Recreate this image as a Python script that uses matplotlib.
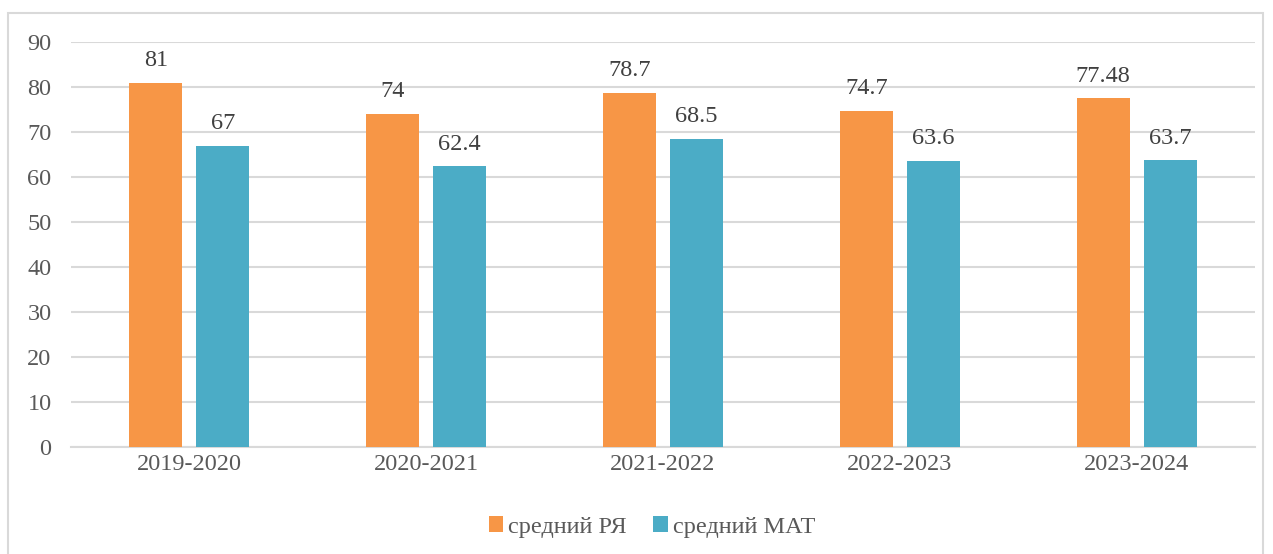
import numpy as np
import matplotlib.pyplot as plt
from matplotlib.patches import Rectangle

# Данные
years = ['2019-2020', '2020-2021', '2021-2022', '2022-2023', '2023-2024']
ry = [81, 74, 78.7, 74.7, 77.48]
mat = [67, 62.4, 68.5, 63.6, 63.7]
ry_labels = ['81', '74', '78.7', '74.7', '77.48']
mat_labels = ['67', '62.4', '68.5', '63.6', '63.7']

plt.rcParams['font.family'] = ['Liberation Serif', 'DejaVu Serif']

fig = plt.figure(figsize=(12.73, 5.54), dpi=100)
W, H = 1273, 554
ax = fig.add_axes([71 / W, 1 - 447 / H, (1255 - 71) / W, (447 - 42) / H])

# рамка вокруг диаграммы
fig.patches.append(Rectangle((8 / W, -0.05), (1263 - 8) / W, 1 - 13 / H + 0.05,
                             transform=fig.transFigure, fill=False,
                             edgecolor='#D9D9D9', linewidth=1.5))

x = np.arange(len(years))
w = 0.224
off = 0.1415
b1 = ax.bar(x - off, ry, w, color='#F79646', label='средний РЯ', zorder=3)
b2 = ax.bar(x + off, mat, w, color='#4BACC6', label='средний МАТ', zorder=3)

for rect, t in zip(b1, ry_labels):
    ax.text(rect.get_x() + rect.get_width() / 2, rect.get_height() + 2.6, t,
            ha='center', va='bottom', fontsize=17.5, color='#404040')
for rect, t in zip(b2, mat_labels):
    ax.text(rect.get_x() + rect.get_width() / 2, rect.get_height() + 2.6, t,
            ha='center', va='bottom', fontsize=17.5, color='#404040')

ax.set_xlim(-0.5, len(years) - 0.5)
ax.set_ylim(0, 90)
ax.set_yticks(range(0, 91, 10))
ax.set_xticks(x)
ax.set_xticklabels(years)
ax.tick_params(axis='both', length=0, labelsize=17.5, labelcolor='#595959')
ax.tick_params(axis='y', pad=14)
ax.tick_params(axis='x', pad=5)
ax.grid(axis='y', color='#D9D9D9', linewidth=1.5, zorder=0)
for s in ['top', 'right', 'left']:
    ax.spines[s].set_visible(False)
ax.spines['bottom'].set_color('#D9D9D9')
ax.spines['bottom'].set_linewidth(1.5)

fig.legend(loc='center', bbox_to_anchor=(652 / W, 1 - 527 / H), ncol=2, frameon=False,
           fontsize=17.5, labelcolor='#595959', handlelength=0.6, handleheight=0.6,
           handletextpad=0.2, columnspacing=1.1)

fig.savefig('out.png', dpi=100)
